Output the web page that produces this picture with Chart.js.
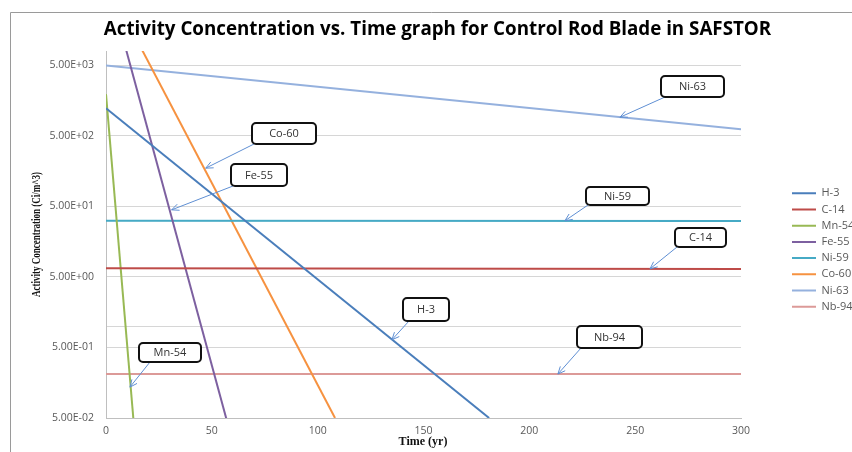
<!DOCTYPE html>
<html>
<head>
<meta charset="utf-8">
<script src="https://cdn.jsdelivr.net/npm/chart.js@4.4.1/dist/chart.umd.min.js"></script>
<style>
  html, body { margin: 0; padding: 0; background: #fff; }
  #wrap { width: 852px; height: 452px; position: relative; }
</style>
</head>
<body>
<div id="wrap"><canvas id="chart" width="852" height="452"></canvas></div>
<script>
const TITLE = 'Activity Concentration vs. Time graph for Control Rod Blade in SAFSTOR';
const X_TITLE = 'Time (yr)';
const Y_TITLE = 'Activity Concentration (Ci/m^3)';

const nuclides = ['H-3', 'C-14', 'Mn-54', 'Fe-55', 'Ni-59', 'Co-60', 'Ni-63', 'Nb-94'];
const colors = ['#4a7ebb', '#be4b48', '#98b954', '#7d60a0', '#46aac5', '#f69240', '#95b1de', '#dc9a98'];

// years / activity (Ci/m^3) -- each decay is a straight line on the log axis
const h3Years = [0, 181];    const h3Vals = [1230, 0.05];
const c14Years = [0, 300];   const c14Vals = [6.65, 6.45];
const mn54Years = [0, 12.9]; const mn54Vals = [1950, 0.05];
const fe55Years = [0, 57];   const fe55Vals = [93000, 0.047];
const ni59Years = [0, 300];  const ni59Vals = [31.2, 31.1];
const co60Years = [0, 108.2]; const co60Vals = [78000, 0.05];
const ni63Years = [0, 300];  const ni63Vals = [4950, 620];
const nb94Years = [0, 300];  const nb94Vals = [0.21, 0.21];

const seriesYears = [h3Years, c14Years, mn54Years, fe55Years, ni59Years, co60Years, ni63Years, nb94Years];
const seriesVals = [h3Vals, c14Vals, mn54Vals, fe55Vals, ni59Vals, co60Vals, ni63Vals, nb94Vals];

const xTicks = [0, 50, 100, 150, 200, 250, 300];
const yTicks = [0.05, 0.5, 1, 5, 50, 500, 5000];

// callout boxes (pixel box + arrow start), arrow tips given in data units
const callouts = [
  { text: 'Co-60', box: [252, 123, 316, 144], from: [254, 144], tip: [47.1, 174] },
  { text: 'Fe-55', box: [231, 164, 287, 186], from: [233, 186], tip: [31.0, 44.6] },
  { text: 'Ni-63', box: [661, 76, 724, 97],   from: [665, 97],  tip: [242.8, 916] },
  { text: 'Ni-59', box: [586, 187, 649, 205], from: [588, 205], tip: [216.8, 31.2] },
  { text: 'C-14',  box: [675, 228, 726, 247], from: [677, 247], tip: [257, 6.5] },
  { text: 'H-3',   box: [403, 298, 449, 321], from: [409, 321], tip: [135.1, 0.643] },
  { text: 'Nb-94', box: [577, 326, 642, 348], from: [581, 348], tip: [213.5, 0.21] },
  { text: 'Mn-54', box: [139, 343, 201, 362], from: [150, 362], tip: [11.3, 0.137] },
];

function fmtSci(v) {
  if (v === 1) return '';
  const [m, e] = v.toExponential(2).split('e');
  const sign = e[0] === '-' ? '-' : '+';
  return `${m}E${sign}${e.replace(/[+-]/, '').padStart(2, '0')}`;
}

const datasets = nuclides.map((name, i) => ({
  label: name,
  data: seriesYears[i].map((x, j) => ({ x, y: seriesVals[i][j] })),
  borderColor: colors[i],
  backgroundColor: colors[i],
  borderWidth: 2,
  pointRadius: 0,
  tension: 0,
  fill: false,
}));

const decor = {
  id: 'decor',
  afterLayout(chart) {
    const lg = chart.legend;
    lg.left = 786.8; lg.right = 852; lg.width = 65.2;
    lg.top = 182.6; lg.bottom = 452; lg.height = 269.4;
  },
  afterDatasetsDraw(chart) {
    const { ctx, scales: { x, y } } = chart;
    ctx.save();
    callouts.forEach(c => {
      const tx = x.getPixelForValue(c.tip[0]);
      const ty = y.getPixelForValue(c.tip[1]);
      const [fx, fy] = c.from;
      ctx.strokeStyle = '#5f8fd3';
      ctx.lineWidth = 1;
      ctx.beginPath();
      ctx.moveTo(fx, fy);
      ctx.lineTo(tx, ty);
      const ang = Math.atan2(fy - ty, fx - tx);
      const L = 8, spread = 0.42;
      ctx.moveTo(tx + L * Math.cos(ang + spread), ty + L * Math.sin(ang + spread));
      ctx.lineTo(tx, ty);
      ctx.lineTo(tx + L * Math.cos(ang - spread), ty + L * Math.sin(ang - spread));
      ctx.stroke();

      const [x1, y1, x2, y2] = c.box;
      ctx.beginPath();
      ctx.roundRect(x1, y1, x2 - x1, y2 - y1, 4);
      ctx.fillStyle = '#fff';
      ctx.fill();
      ctx.lineWidth = 2;
      ctx.strokeStyle = '#111';
      ctx.stroke();
      ctx.fillStyle = '#333';
      ctx.font = '11px "Open Sans"';
      ctx.textAlign = 'center';
      ctx.textBaseline = 'middle';
      ctx.fillText(c.text, (x1 + x2) / 2, (y1 + y2) / 2 + 0.5);
    });
    ctx.restore();
  },
  afterDraw(chart) {
    const { ctx } = chart;
    ctx.save();
    // outer chart border
    ctx.strokeStyle = '#9a9a9a';
    ctx.lineWidth = 1;
    ctx.beginPath();
    ctx.moveTo(10.5, 452);
    ctx.lineTo(10.5, 12.5);
    ctx.lineTo(852, 12.5);
    ctx.stroke();

    // title, fitted to the width it has in the picture
    ctx.fillStyle = '#000';
    ctx.font = 'bold 17px "Open Sans"';
    const w = ctx.measureText(TITLE).width;
    const size = 17 * 668 / w;
    ctx.font = `bold ${size.toFixed(2)}px "Open Sans"`;
    ctx.textAlign = 'center';
    ctx.textBaseline = 'middle';
    ctx.fillText(TITLE, 437.5, 30);

    // axis titles
    ctx.font = 'bold 12px "Liberation Serif"';
    ctx.fillStyle = '#111';
    ctx.fillText(X_TITLE, 423, 442);

    ctx.translate(36.5, 234.5);
    ctx.rotate(-Math.PI / 2);
    const yw = ctx.measureText(Y_TITLE).width;
    ctx.scale(125 / yw, 1);
    ctx.fillText(Y_TITLE, 0, 0);
    ctx.restore();
  }
};

new Chart(document.getElementById('chart'), {
  type: 'line',
  data: { datasets },
  options: {
    responsive: false,
    animation: false,
    layout: { padding: { left: 10, top: 51, right: 111, bottom: 0 } },
    plugins: {
      title: { display: false },
      tooltip: { enabled: false },
      legend: {
        position: 'chartArea',
        align: 'start',
        labels: {
          usePointStyle: true,
          pointStyle: 'line',
          pointStyleWidth: 24,
          padding: 5.2,
          color: '#595959',
          font: { family: '"Open Sans"', size: 11 },
        },
      },
    },
    scales: {
      x: {
        type: 'linear',
        min: 0,
        max: 300,
        afterBuildTicks: s => { s.ticks = xTicks.map(v => ({ value: v })); },
        afterFit: s => { s.height = 34; },
        grid: { display: false, drawTicks: false },
        border: { display: true, color: '#bfbfbf', width: 1 },
        ticks: {
          padding: 7,
          color: '#595959',
          font: { family: '"Open Sans"', size: 10.5 },
          maxRotation: 0,
        },
      },
      y: {
        type: 'logarithmic',
        min: 0.05,
        max: 7970,
        afterBuildTicks: s => { s.ticks = yTicks.map(v => ({ value: v })); },
        afterFit: s => { s.width = 96; },
        grid: { color: '#d6d6d6', lineWidth: 1, drawTicks: false },
        border: { display: true, color: '#bfbfbf', width: 1 },
        ticks: {
          padding: 12,
          color: '#595959',
          font: { family: '"Open Sans"', size: 10.5 },
          callback: v => fmtSci(v),
        },
      },
    },
  },
  plugins: [decor],
});
</script>
</body>
</html>
